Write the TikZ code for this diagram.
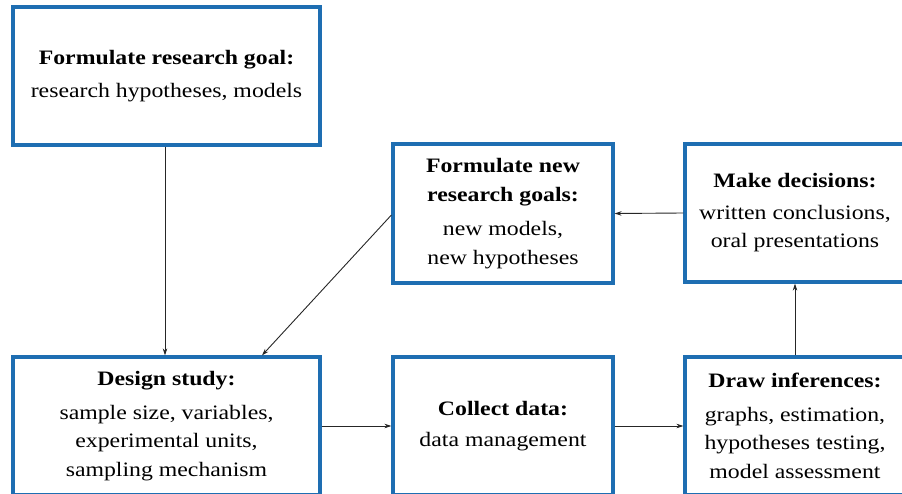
\documentclass[tikz,border=0pt]{standalone}
\usepackage{fontspec}
\setmainfont{Liberation Serif}[FakeStretch=1.16]
\usetikzlibrary{arrows.meta}
\definecolor{boxblue}{RGB}{30,110,178}
\tikzset{
  box/.style={draw=boxblue, line width=3.2pt, rectangle, inner sep=0pt, align=center,
    font=\fontsize{20.5}{28.5}\selectfont},
  conn/.style={draw=black!85, line width=0.9pt, -{Stealth[length=7pt,width=4.5pt]}},
}
\newcommand{\hd}[1]{\textbf{#1}}
\begin{document}
\begin{tikzpicture}[x=1pt,y=-1pt]
\useasboundingbox (0,0) rectangle (902,494);
\clip (0,0) rectangle (902,494);
\node[box, minimum width=307pt, minimum height=138pt] (goal) at (166.5,76) {\hd{Formulate research goal:}\\[5pt] research hypotheses, models};
\node[box, minimum width=220pt, minimum height=139pt] (newgoal) at (503,213.5) {\hd{Formulate new}\\ \hd{research goals:}\\[6pt] new models,\\ new hypotheses};
\node[box, minimum width=220pt, minimum height=138pt] (decide) at (795,213) {\hd{Make decisions:}\\[3pt] written conclusions,\\ oral presentations};
\node[box, minimum width=307pt, minimum height=138pt] (design) at (166.5,426) {\hd{Design study:}\\[5pt] sample size, variables,\\ experimental units,\\ sampling mechanism};
\node[box, minimum width=220pt, minimum height=138pt] (collect) at (503,426) {\hd{Collect data:}\\[3pt] data management};
\node[box, minimum width=220pt, minimum height=138pt] (infer) at (795,426) {\hd{Draw inferences:}\\[5pt] graphs, estimation,\\ hypotheses testing,\\ model assessment};
\draw[conn] (goal.south -| 165,0) -- (design.north -| 165,0);
\draw[conn] (newgoal.west |- 0,215) -- (design.north -| 262,0);
\draw[conn] (decide.west) -- (newgoal.east);
\draw[conn] (design.east) -- (collect.west);
\draw[conn] (collect.east) -- (infer.west);
\draw[conn] (infer.north) -- (decide.south);
\end{tikzpicture}
\end{document}
